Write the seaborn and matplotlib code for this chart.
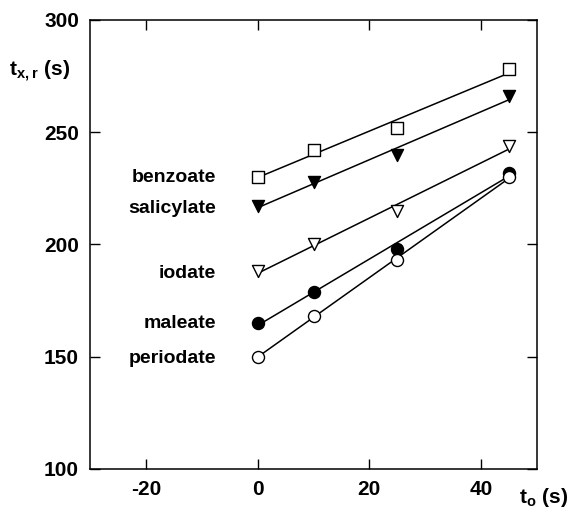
import numpy as np
import pandas as pd
import matplotlib
matplotlib.use("Agg")
import matplotlib.pyplot as plt
import seaborn as sns

# data
t0 = [0, 10, 25, 45]
benzoate = [230, 242, 252, 278]
salicylate = [217, 228, 240, 266]
iodate = [188, 200, 215, 244]
maleate = [165, 179, 198, 232]
periodate = [150, 168, 193, 230]

names = ["benzoate", "salicylate", "iodate", "maleate", "periodate"]
series = [benzoate, salicylate, iodate, maleate, periodate]
markers = ["s", "v", "v", "o", "o"]
filled = [False, True, False, True, False]
label_y = [230, 216, 187, 165, 149]

sns.set_style("ticks")
plt.rcParams["font.family"] = ["Liberation Sans", "DejaVu Sans"]
plt.rcParams["font.weight"] = "bold"
plt.rcParams["mathtext.fontset"] = "custom"
plt.rcParams["mathtext.bf"] = "Liberation Sans:bold"
plt.rcParams["mathtext.rm"] = "Liberation Sans:bold"
plt.rcParams["axes.unicode_minus"] = False
plt.rcParams["text.color"] = "black"
plt.rcParams["axes.edgecolor"] = "black"
plt.rcParams["xtick.color"] = "black"
plt.rcParams["ytick.color"] = "black"

fig = plt.figure(figsize=(5.7, 5.12), dpi=100)
ax = fig.add_axes([0.158, 0.084, 0.784, 0.877])

for name, vals, m, f, ly in zip(names, series, markers, filled, label_y):
    df = pd.DataFrame({"t0": t0, "t": vals})
    sns.regplot(data=df, x="t0", y="t", ax=ax, ci=None, scatter=False,
                truncate=True, color="black", line_kws={"lw": 1.1})
    sns.scatterplot(data=df, x="t0", y="t", ax=ax, marker=m, s=75,
                    facecolor="black" if f else "white",
                    edgecolor="black", linewidth=1.0, zorder=5)
    ax.text(-7.5, ly, name, ha="right", va="center", fontsize=14,
            fontweight="bold", color="black")

ax.set_xlim(-30, 50)
ax.set_ylim(100, 300)
ax.set_xticks([-20, 0, 20, 40])
ax.set_yticks([100, 150, 200, 250, 300])
ax.set_xlabel("")
ax.set_ylabel("")
ax.tick_params(direction="in", top=True, right=True, length=7, width=1,
               labelsize=15, pad=8, colors="black")
for lab in ax.get_xticklabels() + ax.get_yticklabels():
    lab.set_fontweight("bold")
for sp in ax.spines.values():
    sp.set_visible(True)
    sp.set_linewidth(1.1)
    sp.set_color("black")

fig.text(0.015, 0.86, r"$\mathbf{t}_{\mathbf{x,r}}$ (s)", fontsize=15,
         fontweight="bold", va="center")
fig.text(0.91, 0.028, r"$\mathbf{t}_{\mathbf{o}}$ (s)", fontsize=15,
         fontweight="bold", va="center")

fig.savefig("out.png", dpi=100)
